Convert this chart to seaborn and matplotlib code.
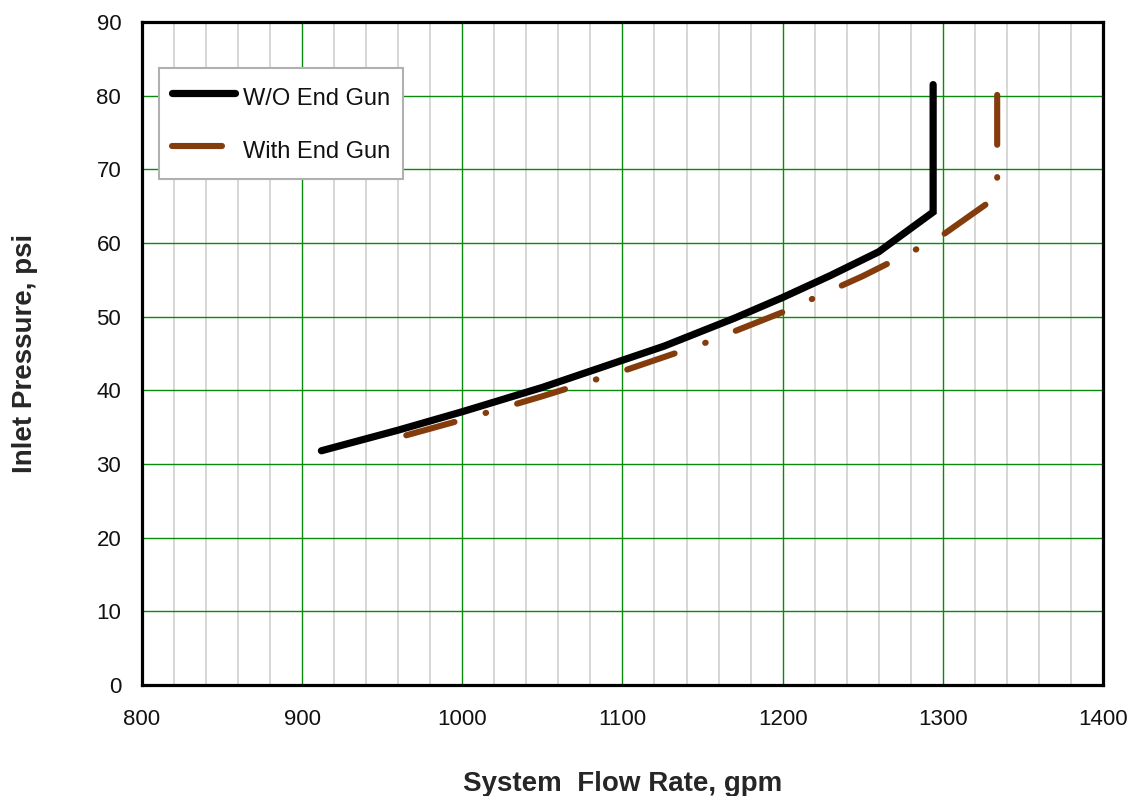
import numpy as np
import pandas as pd
import matplotlib
matplotlib.use("Agg")
import matplotlib.pyplot as plt
import seaborn as sns
from matplotlib.ticker import MultipleLocator

# Data
flow_wo = [912, 960, 1000, 1050, 1126, 1170, 1200, 1230, 1260, 1294, 1294]
pres_wo = [31.8, 34.6, 37.1, 40.4, 46.0, 49.8, 52.6, 55.6, 58.8, 64.2, 81.5]

flow_w = [965, 1000, 1050, 1100, 1150, 1200, 1250, 1284, 1300, 1328, 1334, 1334]
pres_w = [33.9, 36.0, 39.2, 42.6, 46.3, 50.6, 55.5, 59.2, 61.1, 65.4, 66.6, 80.1]

labels = ["W/O End Gun", "With End Gun"]

df_wo = pd.DataFrame({"flow": flow_wo, "pressure": pres_wo})
df_w = pd.DataFrame({"flow": flow_w, "pressure": pres_w})

sns.set_style("white")
plt.rcParams["font.family"] = ["Liberation Sans", "DejaVu Sans"]
plt.rcParams["lines.scale_dashes"] = False

fig, ax = plt.subplots(figsize=(11.3, 7.96), dpi=100)
fig.subplots_adjust(left=0.1257, right=0.976, top=0.9724, bottom=0.1394)

# Lines (estimator=None keeps the vertical segments)
sns.lineplot(data=df_wo, x="flow", y="pressure", sort=False, estimator=None,
             color="black", linewidth=5.2, label=labels[0], ax=ax)
sns.lineplot(data=df_w, x="flow", y="pressure", sort=False, estimator=None,
             color="#843C0C", linewidth=4.4, label=labels[1], ax=ax)

for line in ax.lines:
    line.set_solid_capstyle("round")
    line.set_dash_capstyle("round")
    line.set_solid_joinstyle("miter")
ax.lines[1].set_linestyle((0, (36, 23.3, 0.4, 23.3)))

# Axes, grid
ax.set_xlim(800, 1400)
ax.set_ylim(0, 90)
ax.xaxis.set_major_locator(MultipleLocator(100))
ax.xaxis.set_minor_locator(MultipleLocator(20))
ax.yaxis.set_major_locator(MultipleLocator(10))
ax.set_axisbelow(True)
ax.grid(which="minor", axis="x", color="#d0d0d0", linewidth=1.2)
ax.grid(which="major", color="#0a8a0a", linewidth=1.0)
ax.tick_params(which="both", length=0, labelsize=16, colors="#111111")
ax.tick_params(axis="x", pad=17)
ax.tick_params(axis="y", pad=15)

for sp in ax.spines.values():
    sp.set_visible(True)
    sp.set_color("black")
    sp.set_linewidth(2.3)

ax.set_xlabel("System  Flow Rate, gpm", fontsize=20, fontweight="bold", labelpad=30)
ax.set_ylabel("Inlet Pressure, psi", fontsize=20, fontweight="bold", labelpad=42)

leg = ax.legend(loc="upper left", bbox_to_anchor=(0.0177, 0.9306), borderaxespad=0,
                fontsize=17, handlelength=2.65, handletextpad=0.35, borderpad=0.55,
                handleheight=1.7, labelspacing=0.9, fancybox=False, framealpha=1)
leg.get_frame().set_edgecolor("#b0b0b0")
leg.get_frame().set_linewidth(1.5)
for t in leg.get_texts():
    t.set_color("#111111")

plt.savefig("out.png", dpi=100)
